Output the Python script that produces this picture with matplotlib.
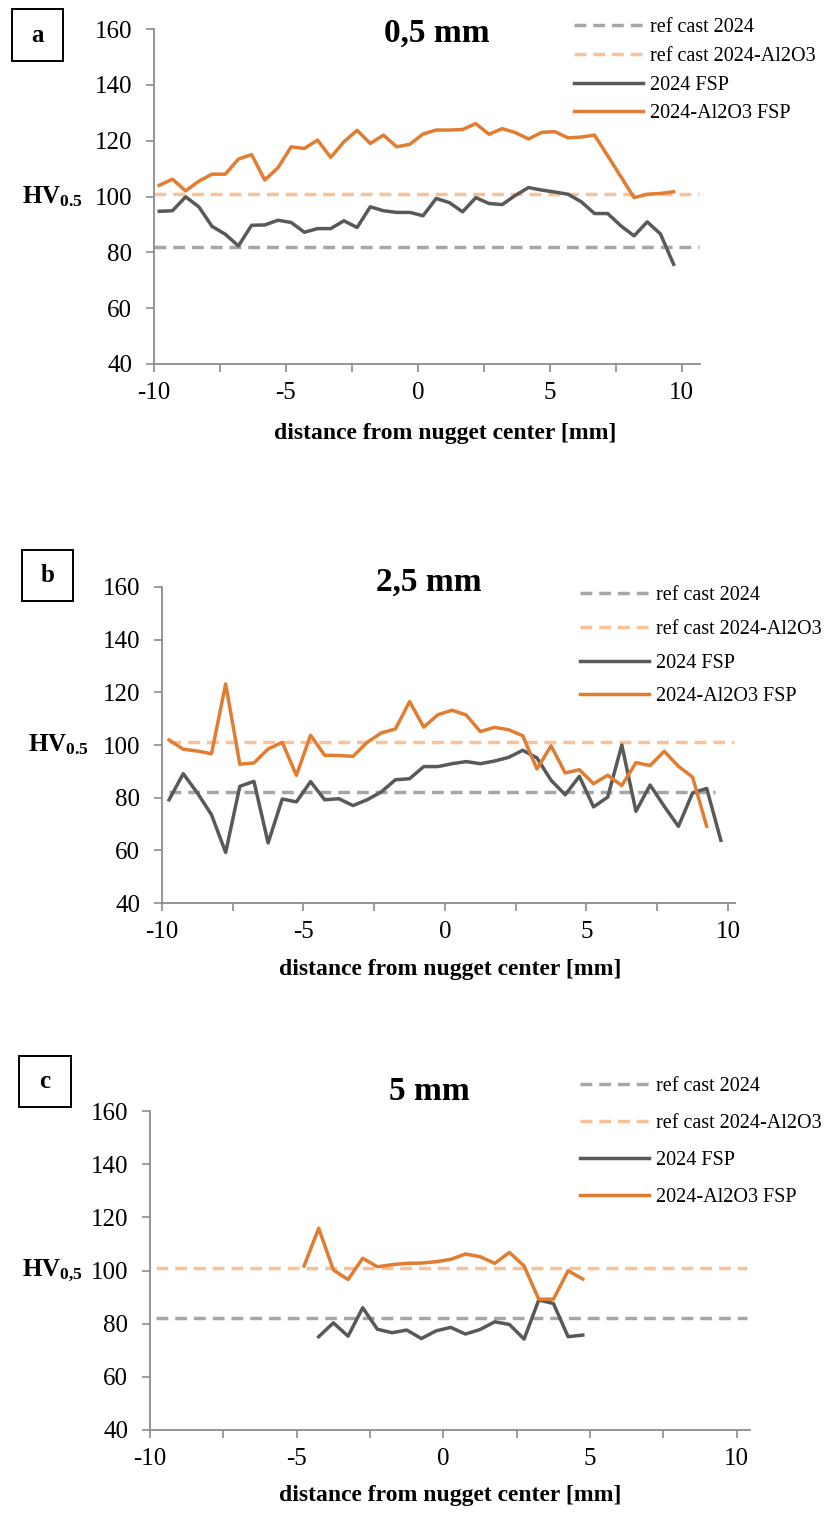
import matplotlib.pyplot as plt
from matplotlib.patches import Rectangle

plt.rcParams['font.family'] = ['Liberation Serif', 'DejaVu Serif']
plt.rcParams['mathtext.fontset'] = 'custom'
plt.rcParams['mathtext.rm'] = 'Liberation Serif'
plt.rcParams['mathtext.bf'] = 'Liberation Serif:bold'

W, H = 826, 1515

# reference hardness of the cast materials
ref_2024 = 82
ref_2024_al2o3 = 101

# 0.5 mm below the surface
x_a = [-9.8, -9.3, -8.8, -8.3, -7.8, -7.3, -6.8, -6.3, -5.8, -5.3,
       -4.8, -4.3, -3.8, -3.3, -2.8, -2.3, -1.8, -1.3, -0.8, -0.3,
       0.2, 0.7, 1.2, 1.7, 2.2, 2.7, 3.2, 3.7, 4.2, 4.7,
       5.2, 5.7, 6.2, 6.7, 7.2, 7.7, 8.2, 8.7, 9.2, 9.7]
fsp_a = [94.7, 94.9, 99.9, 96.3, 89.3, 86.5, 82.3, 89.7, 89.8, 91.5,
         90.7, 87.2, 88.5, 88.5, 91.3, 88.9, 96.3, 94.9, 94.3, 94.3,
         93.1, 99.3, 97.8, 94.5, 99.6, 97.5, 97.1, 100.4, 103.2, 102.3,
         101.6, 100.8, 98.1, 93.9, 93.9, 89.5, 85.9, 90.9, 86.6, 75.7]
comp_a = [104.0, 106.2, 102.0, 105.5, 108.0, 108.0, 113.4, 115.0, 105.9, 110.3,
          117.8, 117.2, 120.2, 114.0, 119.6, 123.7, 119.0, 122.0, 117.8, 118.7,
          122.4, 123.8, 123.8, 124.0, 126.1, 122.3, 124.3, 122.9, 120.6, 123.0,
          123.2, 121.0, 121.3, 122.0, 114.6, 107.1, 99.6, 100.8, 101.1, 101.7]
ref_x_a = [-10, 10.65]

# 2.5 mm below the surface
x_b_fsp = [-9.75, -9.25, -8.75, -8.25, -7.75, -7.25, -6.75, -6.25, -5.75, -5.25,
           -4.75, -4.25, -3.75, -3.25, -2.75, -2.25, -1.75, -1.25, -0.75, -0.25,
           0.25, 0.75, 1.25, 1.75, 2.25, 2.75, 3.25, 3.75, 4.25, 4.75,
           5.25, 5.75, 6.25, 6.75, 7.25, 7.75, 8.25, 8.75, 9.25, 9.75]
fsp_b = [79.2, 89.1, 81.8, 73.5, 59.2, 84.3, 86.2, 62.8, 79.5, 78.4,
         86.1, 79.2, 79.6, 77.0, 79.2, 82.2, 86.8, 87.2, 91.8, 91.8,
         92.9, 93.7, 92.9, 93.9, 95.3, 98.0, 95.1, 86.6, 81.1, 88.1,
         76.5, 80.2, 100.0, 74.8, 84.8, 76.7, 69.1, 81.8, 83.5, 63.8]
x_b_comp = [-9.75, -9.25, -8.75, -8.25, -7.75, -7.25, -6.75, -6.25, -5.75, -5.25,
            -4.75, -4.25, -3.75, -3.25, -2.75, -2.25, -1.75, -1.25, -0.75, -0.25,
            0.25, 0.75, 1.25, 1.75, 2.25, 2.75, 3.25, 3.75, 4.25, 4.75,
            5.25, 5.75, 6.25, 6.75, 7.25, 7.75, 8.25, 8.75, 9.25]
comp_b = [101.9, 98.4, 97.7, 96.7, 123.2, 92.7, 93.2, 98.5, 101.0, 88.5,
          103.7, 96.1, 96.0, 95.7, 101.0, 104.6, 106.1, 116.5, 106.8, 111.5,
          113.2, 111.4, 105.1, 106.7, 105.8, 103.5, 90.9, 99.7, 89.4, 90.6,
          85.3, 88.5, 84.6, 93.3, 92.2, 97.6, 91.9, 87.8, 69.1]
ref_x_b_2024 = [-9.75, 9.55]
ref_x_b_comp = [-9.75, 10.2]

# 5 mm below the surface
x_c_fsp = [-4.25, -3.75, -3.25, -2.75, -2.25, -1.75, -1.25, -0.75, -0.25, 0.25,
           0.75, 1.25, 1.75, 2.25, 2.75, 3.25, 3.75, 4.25, 4.75]
fsp_c = [75.1, 80.3, 75.3, 86.0, 77.9, 76.6, 77.6, 74.4, 77.3, 78.6,
         76.1, 77.8, 80.7, 79.7, 74.2, 88.9, 87.6, 75.1, 75.7]
x_c_comp = [-4.75, -4.25, -3.75, -3.25, -2.75, -2.25, -1.75, -1.25, -0.75, -0.25,
            0.25, 0.75, 1.25, 1.75, 2.25, 2.75, 3.25, 3.75, 4.25, 4.75]
comp_c = [101.7, 115.9, 100.2, 96.6, 104.6, 101.4, 102.2, 102.7, 102.8, 103.3,
          104.2, 106.2, 105.2, 102.7, 106.8, 101.7, 89.2, 89.2, 99.9, 96.8]
ref_x_c = [-9.8, 10.35]

panels = [
    dict(tag='a', title='0,5 mm', hv=r'$\mathbf{HV_{0.5}}$',
         x_fsp=x_a, fsp=fsp_a, x_comp=x_a, comp=comp_a,
         ref_x_2024=ref_x_a, ref_x_comp=ref_x_a, xmax=10.7,
         box=(154, 29, 700, 364), tagbox=(12, 9, 63, 61), title_xy=(437, 33),
         legend_xy=(574, 18), legend_sp=0.48, hv_x=52, xlabel_y=433, xlabel_x=445),
    dict(tag='b', title='2,5 mm', hv=r'$\mathbf{HV_{0.5}}$',
         x_fsp=x_b_fsp, fsp=fsp_b, x_comp=x_b_comp, comp=comp_b,
         ref_x_2024=ref_x_b_2024, ref_x_comp=ref_x_b_comp, xmax=10.25,
         box=(162, 587, 735, 903), tagbox=(22, 550, 73, 601), title_xy=(429, 582),
         legend_xy=(580, 586), legend_sp=0.73, hv_x=58, xlabel_y=970, xlabel_x=450),
    dict(tag='c', title='5 mm', hv=r'$\mathbf{HV_{0{,}5}}$',
         x_fsp=x_c_fsp, fsp=fsp_c, x_comp=x_c_comp, comp=comp_c,
         ref_x_2024=ref_x_c, ref_x_comp=ref_x_c, xmax=10.45,
         box=(150, 1111, 750, 1430), tagbox=(19, 1056, 71, 1107), title_xy=(429, 1091),
         legend_xy=(580, 1077), legend_sp=0.88, hv_x=52, xlabel_y=1495, xlabel_x=450),
]

c_dark = '#595959'
c_orange = '#E07D32'
c_ref_gray = '#A6A6A6'
c_ref_orange = '#F9C195'
c_axis = '#8C8C8C'

fig = plt.figure(figsize=(W / 100, H / 100), dpi=100)

for p in panels:
    l, t, r, b = p['box']
    ax = fig.add_axes([l / W, 1 - b / H, (r - l) / W, (b - t) / H])

    ax.plot(p['ref_x_2024'], [ref_2024] * 2, color=c_ref_gray, lw=2.5,
            ls=(0, (3.4, 2.0)), label='ref cast 2024')
    ax.plot(p['ref_x_comp'], [ref_2024_al2o3] * 2, color=c_ref_orange, lw=2.5,
            ls=(0, (3.4, 2.0)), label='ref cast 2024-Al2O3')
    ax.plot(p['x_fsp'], p['fsp'], color=c_dark, lw=2.5, label='2024 FSP')
    ax.plot(p['x_comp'], p['comp'], color=c_orange, lw=2.5, label='2024-Al2O3 FSP')

    ax.set_xlim(-10, p['xmax'])
    ax.set_ylim(40, 160)
    ticks = [-10, -7.5, -5, -2.5, 0, 2.5, 5, 7.5, 10]
    ax.set_xticks(ticks)
    ax.set_xticklabels([f'{v:g}' if v % 5 == 0 else '' for v in ticks])
    ax.set_yticks(range(40, 161, 20))

    for side in ('top', 'right'):
        ax.spines[side].set_visible(False)
    for side in ('left', 'bottom'):
        ax.spines[side].set_color(c_axis)
        ax.spines[side].set_linewidth(1.3)
    ax.tick_params(direction='out', length=5.8, width=1.2, color=c_axis,
                   labelsize=18)
    ax.tick_params(axis='x', pad=7)
    ax.tick_params(axis='y', pad=10)

    ax.set_ylabel(p['hv'], fontsize=18, rotation=0, ha='center', va='center')
    ax.yaxis.set_label_coords((p['hv_x'] - l) / (r - l), 0.5)
    ax.set_xlabel('distance from nugget center [mm]', fontsize=17,
                  fontweight='bold', va='center')
    ax.xaxis.set_label_coords((p['xlabel_x'] - l) / (r - l),
                              (b - p['xlabel_y']) / (b - t))

    fig.text(p['title_xy'][0] / W, 1 - p['title_xy'][1] / H, p['title'],
             fontsize=24, fontweight='bold', ha='center', va='center')

    lx, ly = p['legend_xy']
    ax.legend(loc='upper left', bbox_to_anchor=(lx / W, 1 - ly / H),
              bbox_transform=fig.transFigure, frameon=False, fontsize=14.5,
              handlelength=3.45, handletextpad=0.3, borderpad=0, borderaxespad=0,
              labelspacing=p['legend_sp'])

    x0, y0, x1, y1 = p['tagbox']
    fig.add_artist(Rectangle((x0 / W, 1 - y1 / H), (x1 - x0) / W, (y1 - y0) / H,
                             transform=fig.transFigure, fill=False,
                             edgecolor='black', lw=1.4))
    fig.text((x0 + x1) / 2 / W, 1 - (y0 + y1) / 2 / H, p['tag'],
             fontsize=18, fontweight='bold', ha='center', va='center')

fig.savefig('out.png', dpi=100)
